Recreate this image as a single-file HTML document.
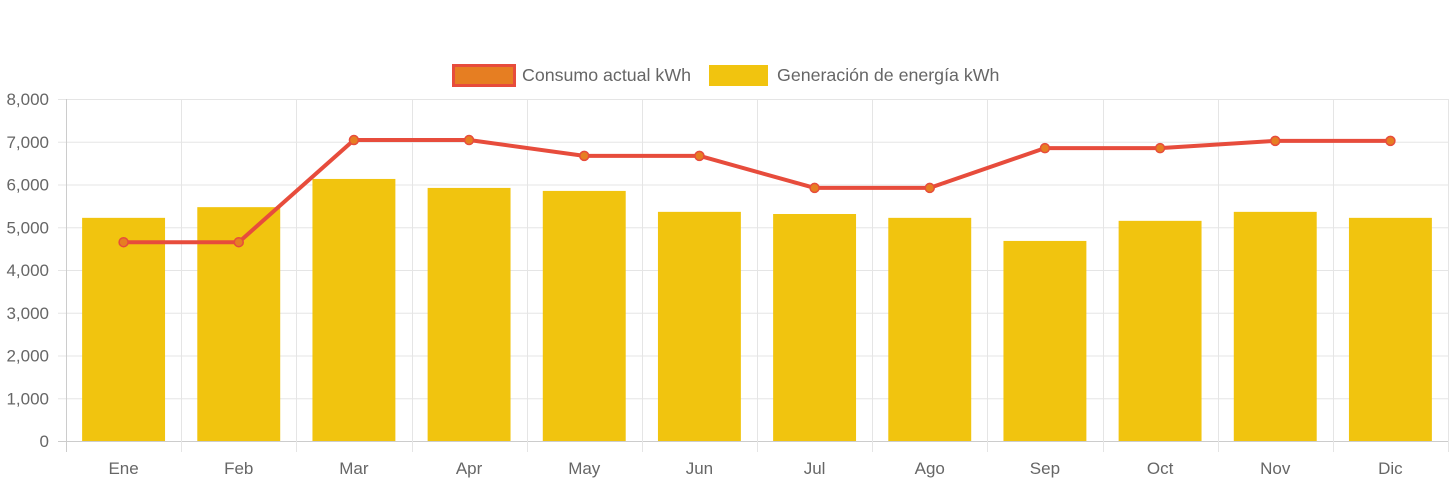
<!DOCTYPE html>
<html><head><meta charset="utf-8"><style>
html,body{margin:0;padding:0;background:#fff;width:1456px;height:484px;overflow:hidden}
svg text{font-family:"Liberation Sans",Arial,sans-serif;fill:#666;font-size:17px}
svg .leg{font-size:17.8px}
</style></head><body>
<svg id="chart" width="1456" height="484" xmlns="http://www.w3.org/2000/svg">
<g id="legend">
<g>
<rect x="453.5" y="65.5" width="61" height="20" fill="#e67e22" stroke="#e74c3c" stroke-width="3"/>
<text class="leg" x="522" y="81">Consumo actual kWh</text></g>
<g>
<rect x="709" y="65" width="59" height="21" fill="#f1c40f"/>
<text class="leg" x="777" y="81">Generación de energía kWh</text></g>
</g>
<g id="grid"></g>
<g id="bars"></g>
<g id="line"></g>
<g id="axes"></g>
</svg>
<script>
const categories=["Ene","Feb","Mar","Apr","May","Jun","Jul","Ago","Sep","Oct","Nov","Dic"];
const generacion=[5220,5470,6130,5920,5850,5360,5310,5220,4680,5150,5360,5220];
const consumo=[4650,4650,7040,7040,6670,6670,5920,5920,6850,6850,7020,7020];
const yTicks=[0,1000,2000,3000,4000,5000,6000,7000,8000];
const yTickLabels=["0","1,000","2,000","3,000","4,000","5,000","6,000","7,000","8,000"];
const L=66,R=1448,T=99,B=441,yMax=8000;
const step=(R-L)/categories.length;
const x=i=>L+step*(i+0.5);
const y=v=>B-(v/yMax)*(B-T);
const NS="http://www.w3.org/2000/svg";
function mk(tag,attrs,parent){const e=document.createElementNS(NS,tag);for(const k in attrs)e.setAttribute(k,attrs[k]);parent.appendChild(e);return e;}
const grid=document.getElementById('grid'),bars=document.getElementById('bars'),line=document.getElementById('line'),axes=document.getElementById('axes');
yTicks.forEach((t,i)=>{
 const g=mk('line',{x1:L-8,x2:R,y1:y(t)+0.5,y2:y(t)+0.5,stroke:i==0?'#ccc':'#e5e5e5','stroke-width':1},grid);
 
 
 const tx=mk('text',{x:L-17,y:y(t)+6,'text-anchor':'end'},axes);
 tx.textContent=yTickLabels[i];
 
 
});
for(let i=0;i<=categories.length;i++){
 const xx=Math.round(L+step*i)+0.5;
 const g=mk('line',{x1:xx,x2:xx,y1:T,y2:B+11,stroke:i==0?'#ccc':'#e5e5e5','stroke-width':1},grid);
 
 
}
const bw=step*0.72;
categories.forEach((c,i)=>{
 const r=mk('rect',{x:x(i)-bw/2,y:y(generacion[i]),width:bw,height:B-y(generacion[i]),fill:'#f1c40f'},bars);
 
 
 const tx=mk('text',{x:x(i),y:474,'text-anchor':'middle'},axes);
 tx.textContent=c;
 
 
});
const pts=consumo.map((v,i)=>x(i)+','+y(v)).join(' ');
const pl=mk('polyline',{points:pts,fill:'none',stroke:'#e74c3c','stroke-width':4,'stroke-linejoin':'round'},line);


consumo.forEach((v,i)=>{
 const p=mk('circle',{cx:x(i),cy:y(v),r:4.5,fill:'#e67e22',stroke:'#e74c3c','stroke-width':1.5},line);
 
 
});
</script>
</body></html>
